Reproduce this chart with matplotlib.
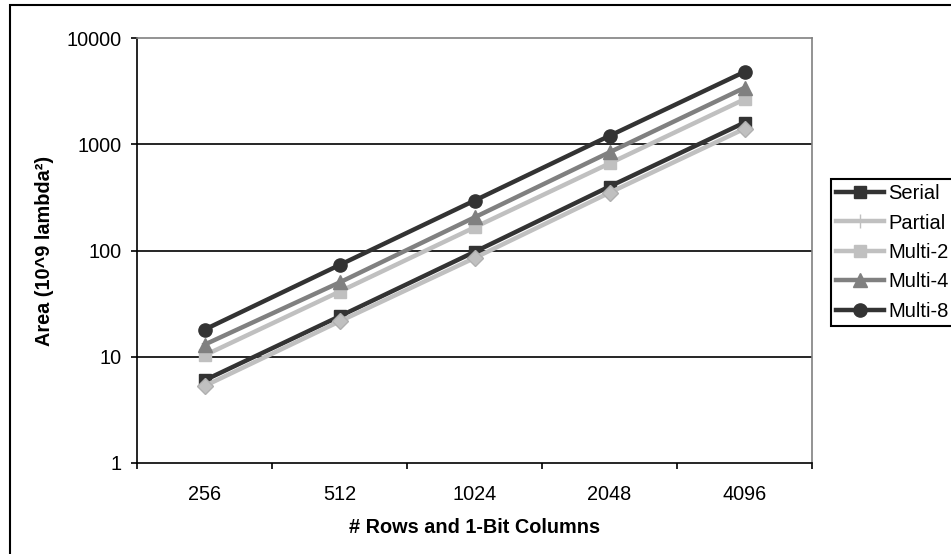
import matplotlib
matplotlib.use("Agg")
import matplotlib.pyplot as plt
from matplotlib.lines import Line2D
from matplotlib.patches import Rectangle
from matplotlib.ticker import FixedLocator, NullFormatter

plt.rcParams['font.family'] = ['Liberation Sans', 'DejaVu Sans']

categories = ["256", "512", "1024", "2048", "4096"]
serial = [6, 24, 97, 400, 1600]
partial = [5.3, 21.5, 85, 350, 1400]
multi2 = [10.3, 41, 165, 660, 2650]
multi4 = [13, 50, 205, 840, 3400]
multi8 = [18, 73, 295, 1200, 4800]

W, H = 951, 554
fig = plt.figure(figsize=(W / 100, H / 100), dpi=100)
ax = fig.add_axes([137 / W, 1 - 463 / H, (812 - 137) / W, (463 - 38) / H])

x = range(len(categories))
lw = 3.2
l_serial, = ax.plot(x, serial, color="#333333", lw=lw, marker="s", ms=9, label="Serial")
l_partial, = ax.plot(x, partial, color="#c0c0c0", lw=lw, marker="D", ms=8,
                     markeredgecolor="#b0b0b0", label="Partial")
l_multi2, = ax.plot(x, multi2, color="#c0c0c0", lw=lw, marker="s", ms=9, label="Multi-2")
l_multi4, = ax.plot(x, multi4, color="#808080", lw=lw, marker="^", ms=10, label="Multi-4")
l_multi8, = ax.plot(x, multi8, color="#333333", lw=lw, marker="o", ms=9.5, label="Multi-8")

ax.set_yscale("log")
ax.set_ylim(1, 10000)
ax.set_xlim(-0.5, len(categories) - 0.5)
ax.set_yticks([1, 10, 100, 1000, 10000])
ax.set_yticklabels(["1", "10", "100", "1000", "10000"])
ax.yaxis.set_minor_locator(FixedLocator([]))
ax.yaxis.set_minor_formatter(NullFormatter())
ax.set_xticks(list(x))
ax.set_xticklabels(categories)
ax.set_xticks([i - 0.5 for i in range(len(categories) + 1)], minor=True)

ax.tick_params(axis="x", which="major", length=0, pad=16, labelsize=14.3)
ax.tick_params(axis="x", which="minor", length=4, width=1.2, direction="out", color="black")
ax.tick_params(axis="y", which="major", length=4, width=1.2, direction="out", pad=7, labelsize=14.3)

for yv in [10, 100, 1000]:
    ax.axhline(yv, color="black", lw=1.2, zorder=0.5)
for side in ["left", "bottom"]:
    ax.spines[side].set_color("black")
    ax.spines[side].set_linewidth(1.2)
for side in ["top", "right"]:
    ax.spines[side].set_color("#808080")
    ax.spines[side].set_linewidth(1.2)

ax.set_xlabel("# Rows and 1-Bit Columns", fontsize=14.3, fontweight="bold", labelpad=10)
ax.set_ylabel("Area (10^9 lambda²)", fontsize=14.3, fontweight="bold", labelpad=9)

partial_handle = Line2D([], [], color="#c0c0c0", lw=lw, marker="+", ms=10, mew=1)
leg = fig.legend([l_serial, partial_handle, l_multi2, l_multi4, l_multi8],
                 ["Serial", "Partial", "Multi-2", "Multi-4", "Multi-8"],
                 loc="upper left", bbox_to_anchor=(831 / W, 1 - 179 / H),
                 fontsize=14.5, fancybox=False, edgecolor="black", framealpha=1,
                 handlelength=2.4, handletextpad=0.2, labelspacing=0.52,
                 borderpad=0.25, borderaxespad=0)
leg.get_frame().set_linewidth(1.5)

fig.patches.append(Rectangle((9.5 / W, -0.1), 2, 1 - 4.5 / H + 0.1,
                             transform=fig.transFigure, fill=False,
                             edgecolor="black", lw=1.5))

fig.savefig("out.png", dpi=100)
